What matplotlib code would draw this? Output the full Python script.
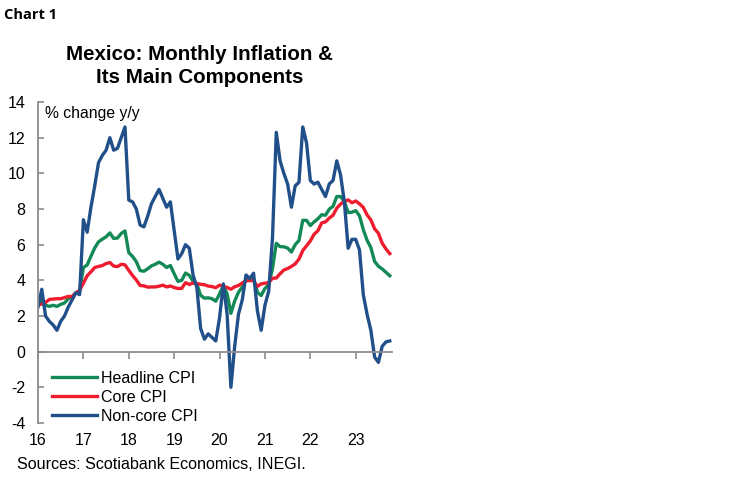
import numpy as np
import matplotlib
matplotlib.use("Agg")
import matplotlib.pyplot as plt
import matplotlib.transforms as mtransforms

plt.rcParams['font.family'] = ['Liberation Sans', 'DejaVu Sans']
plt.rcParams['axes.unicode_minus'] = False

# monthly y/y % change, Jan 2016 - Oct 2023
headline = [
    2.61, 2.87, 2.60, 2.54, 2.60, 2.54, 2.65, 2.73, 2.97, 3.06, 3.31, 3.36,
    4.72, 4.86, 5.35, 5.82, 6.16, 6.31, 6.44, 6.66, 6.35, 6.37, 6.63, 6.77,
    5.55, 5.34, 5.04, 4.55, 4.51, 4.65, 4.81, 4.90, 5.02, 4.90, 4.72, 4.83,
    4.37, 3.94, 4.00, 4.41, 4.28, 3.95, 3.78, 3.16, 3.00, 3.02, 2.97, 2.83,
    3.24, 3.70, 3.25, 2.15, 2.84, 3.33, 3.62, 4.05, 4.01, 4.09, 3.33, 3.15,
    3.54, 3.76, 4.67, 6.08, 5.89, 5.88, 5.81, 5.59, 6.00, 6.24, 7.37, 7.36,
    7.07, 7.28, 7.45, 7.68, 7.65, 7.99, 8.15, 8.70, 8.70, 8.41, 7.80, 7.82,
    7.91, 7.62, 6.85, 6.25, 5.84, 5.06, 4.79, 4.64, 4.45, 4.26,
]
core = [
    2.64, 2.66, 2.76, 2.93, 2.95, 2.97, 2.97, 3.03, 3.10, 3.09, 3.29, 3.44,
    3.84, 4.26, 4.48, 4.72, 4.78, 4.83, 4.94, 5.00, 4.80, 4.77, 4.90, 4.87,
    4.56, 4.27, 4.02, 3.71, 3.69, 3.62, 3.63, 3.63, 3.67, 3.73, 3.63, 3.68,
    3.60, 3.54, 3.55, 3.87, 3.77, 3.85, 3.82, 3.78, 3.75, 3.68, 3.65, 3.59,
    3.73, 3.66, 3.60, 3.50, 3.64, 3.71, 3.85, 3.97, 3.99, 3.98, 3.66, 3.80,
    3.84, 3.87, 4.12, 4.13, 4.37, 4.58, 4.66, 4.78, 4.92, 5.19, 5.67, 5.94,
    6.21, 6.59, 6.78, 7.22, 7.28, 7.49, 7.65, 8.05, 8.28, 8.42, 8.51, 8.35,
    8.45, 8.29, 8.09, 7.67, 7.39, 6.89, 6.64, 6.08, 5.76, 5.50,
]
noncore = [
    2.5, 3.5, 2.0, 1.7, 1.5, 1.2, 1.7, 2.0, 2.5, 2.9, 3.3, 3.2,
    7.4, 6.7, 8.1, 9.3, 10.6, 11.0, 11.3, 12.0, 11.3, 11.4, 12.0, 12.6,
    8.5, 8.4, 8.0, 7.1, 7.0, 7.6, 8.3, 8.7, 9.1, 8.6, 8.1, 8.4,
    6.8, 5.2, 5.5, 6.0, 5.8, 4.3, 3.6, 1.3, 0.7, 1.0, 0.8, 0.6,
    1.9, 3.8, 2.1, -2.0, 0.3, 2.1, 2.9, 4.3, 4.1, 4.4, 2.3, 1.2,
    2.6, 3.4, 6.4, 12.3, 10.7, 10.0, 9.4, 8.1, 9.3, 9.5, 12.6, 11.7,
    9.6, 9.4, 9.5, 9.1, 8.7, 9.4, 9.6, 10.7, 9.9, 8.4, 5.8, 6.3,
    6.3, 5.7, 3.2, 2.1, 1.2, -0.3, -0.6, 0.3, 0.55, 0.6,
]
year_labels = ['16', '17', '18', '19', '20', '21', '22', '23']
series_names = ['Headline CPI', 'Core CPI', 'Non-core CPI']

x = 2016 + np.arange(len(headline)) / 12.0

fig = plt.figure(figsize=(7.48, 4.83), dpi=100)
ax = fig.add_axes([0.0508, 0.1242, 0.4733, 0.6646])

green = '#138a56'
red = '#ee1c2e'
navy = '#214f8a'
gray = '#8c8c8c'

ax.plot(x, headline, color=green, lw=2.4, label=series_names[0], solid_joinstyle='round')
ax.plot(x, core, color=red, lw=2.4, label=series_names[1], solid_joinstyle='round')
ax.plot(x, noncore, color=navy, lw=2.4, label=series_names[2], solid_joinstyle='round')

ax.set_xlim(2016, 2023.8)
ax.set_ylim(-4, 14)
ax.set_yticks(np.arange(-4, 15, 2))

for s in ['top', 'right']:
    ax.spines[s].set_visible(False)
ax.spines['left'].set_color(gray)
ax.spines['left'].set_linewidth(1.3)
ax.spines['bottom'].set_position(('data', 0))
ax.spines['bottom'].set_color(gray)
ax.spines['bottom'].set_linewidth(1.3)

ax.tick_params(axis='y', direction='in', length=4, width=1.2, color=gray,
               labelsize=11.5, pad=9)
ax.set_xticks(np.arange(2016, 2024))
ax.tick_params(axis='x', direction='out', length=5, width=1.2, color=gray,
               labelbottom=False)

trans = mtransforms.blended_transform_factory(ax.transData, ax.transAxes)
for yr, lab in zip(range(2016, 2024), year_labels):
    ax.text(yr, -0.055, lab, transform=trans, ha='center', va='center', fontsize=11.5)

ax.text(0.02, 0.965, '% change y/y', transform=ax.transAxes, fontsize=11.3,
        ha='left', va='center')

ax.legend(loc='upper left', bbox_to_anchor=(0.04, 0.163), frameon=False,
          fontsize=11.5, handlelength=2.8, handletextpad=0.25, labelspacing=0.26,
          borderpad=0, borderaxespad=0)

fig.text(0.006, 0.968, 'Chart 1', fontsize=10.5, fontweight='bold',
         family=['Open Sans', 'DejaVu Sans'], ha='left', va='center')
fig.text(0.267, 0.8635, 'Mexico: Monthly Inflation &\nIts Main Components',
         fontsize=14.8, fontweight='bold', ha='center', va='center', linespacing=1.22)
fig.text(0.023, 0.039, 'Sources: Scotiabank Economics, INEGI.', fontsize=11.6,
         ha='left', va='center')

fig.savefig('out.png', dpi=100)
